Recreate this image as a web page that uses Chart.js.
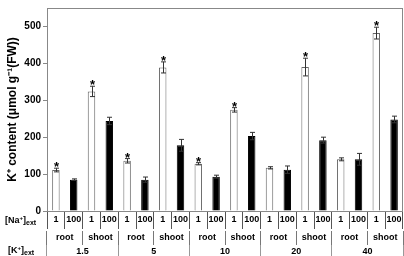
<!DOCTYPE html>
<html>
<head>
<meta charset="utf-8">
<script src="https://cdn.jsdelivr.net/npm/chart.js@4"></script>
<style>
  body { margin: 0; background: #fff; }
  #wrap { width: 404px; height: 256px; }
</style>
</head>
<body>
<div id="wrap"><canvas id="myChart"></canvas></div>
<script>
// [Na+]ext, tissue and [K+]ext levels
var naLabels = ['1', '100', '1', '100', '1', '100', '1', '100', '1', '100',
                '1', '100', '1', '100', '1', '100', '1', '100', '1', '100'];
var tissues = ['root', 'shoot', 'root', 'shoot', 'root', 'shoot', 'root', 'shoot', 'root', 'shoot'];
var kLevels = ['1.5', '5', '10', '20', '40'];

// K+ content, error and significance stars
var values = [111, 85, 324, 244, 136, 85, 389, 178, 128, 93, 274, 203, 117, 112, 390, 192, 140, 140, 482, 248];
var errors = [5, 2, 14, 10, 6, 7, 15, 16, 3, 4, 6, 10, 3, 10, 24, 8, 4, 16, 16, 9];
var stars = [1, 0, 1, 0, 1, 0, 1, 0, 1, 0, 1, 0, 0, 0, 1, 0, 0, 0, 1, 0];

var FONT = "'Liberation Sans', Arial, sans-serif";

var fills = [];
var borders = [];
for (var i = 0; i < naLabels.length; i++) {
    if (naLabels[i] == '1') {
        fills.push('#ffffff');
        borders.push('#666666');
    } else {
        fills.push('#000000');
        borders.push('#000000');
    }
}

var extras = {
    id: 'extras',
    afterDatasetsDraw: function(chart) {
        var ctx = chart.ctx;
        var y = chart.scales.y;
        var meta = chart.getDatasetMeta(0);
        ctx.save();
        ctx.strokeStyle = '#333';
        ctx.lineWidth = 1;
        for (var i = 0; i < values.length; i++) {
            var x = Math.round(meta.data[i].x) + 0.5;
            var top = y.getPixelForValue(values[i] + errors[i]);
            var bot = y.getPixelForValue(values[i] - errors[i]);
            ctx.beginPath();
            ctx.moveTo(x, bot); ctx.lineTo(x, top);
            ctx.moveTo(x - 2.5, top); ctx.lineTo(x + 2.5, top);
            ctx.moveTo(x - 2.5, bot); ctx.lineTo(x + 2.5, bot);
            ctx.stroke();
            if (stars[i]) {
                ctx.fillStyle = '#000';
                ctx.font = 'bold 13px ' + FONT;
                ctx.textAlign = 'center';
                ctx.textBaseline = 'alphabetic';
                ctx.fillText('*', x, top + 3);
            }
        }
        // frame
        var a = chart.chartArea;
        ctx.strokeStyle = '#888';
        ctx.strokeRect(Math.round(a.left) + 0.5, Math.round(a.top) + 0.5,
                       Math.round(a.right - a.left) - 1, Math.round(a.bottom - a.top));
        // row titles
        ctx.fillStyle = '#000';
        ctx.textAlign = 'left';
        ctx.textBaseline = 'middle';
        drawTag(ctx, 'Na', 5, 221);
        drawTag(ctx, 'K', 8, 251);
        ctx.restore();
    }
};

function drawTag(ctx, el, x, y) {
    ctx.font = 'bold 9px ' + FONT;
    ctx.fillText('[' + el, x, y);
    x += ctx.measureText('[' + el).width;
    ctx.font = 'bold 6px ' + FONT;
    ctx.fillText('+', x, y - 3);
    x += ctx.measureText('+').width;
    ctx.font = 'bold 9px ' + FONT;
    ctx.fillText(']', x, y);
    x += ctx.measureText(']').width;
    ctx.font = 'bold 7px ' + FONT;
    ctx.fillText('ext', x, y + 2);
}

new Chart('myChart', {
    type: 'bar',
    data: {
        labels: naLabels,
        datasets: [{
            data: values,
            backgroundColor: fills,
            borderColor: borders,
            borderWidth: 1,
            barPercentage: 0.42,
            categoryPercentage: 1
        }]
    },
    options: {
        responsive: true,
        maintainAspectRatio: false,
        animation: false,
        layout: { padding: { top: 1, right: 1, left: 0, bottom: 0 } },
        plugins: { legend: { display: false }, tooltip: { enabled: false } },
        scales: {
            y: {
                min: 0,
                max: 550,
                afterFit: function(s) { s.width = 47; },
                ticks: {
                    stepSize: 100,
                    includeBounds: false,
                    color: '#000',
                    padding: 2,
                    font: { family: FONT, size: 10, weight: 'bold' }
                },
                grid: { drawOnChartArea: false, tickLength: 4, color: '#888' },
                border: { display: false },
                title: {
                    display: true,
                    text: 'K⁺ content (μmol g⁻¹(FW))',
                    color: '#000',
                    padding: { top: 5, bottom: 0 },
                    font: { family: FONT, size: 12, weight: 'bold' }
                }
            },
            x: {
                afterFit: function(s) { s.height = 20; },
                ticks: {
                    autoSkip: false, maxRotation: 0, padding: -15, color: '#000',
                    font: { family: FONT, size: 9, weight: 'bold' }
                },
                grid: { offset: true, drawOnChartArea: false, tickLength: 18, color: '#555' },
                border: { display: false }
            },
            x2: {
                type: 'category',
                position: 'bottom',
                labels: tissues,
                afterFit: function(s) { s.height = 14; },
                ticks: {
                    autoSkip: false, maxRotation: 0, padding: -13, color: '#000',
                    font: { family: FONT, size: 9, weight: 'bold' }
                },
                grid: { offset: true, drawOnChartArea: false, tickLength: 14, color: '#777' },
                border: { display: false }
            },
            x3: {
                type: 'category',
                position: 'bottom',
                labels: kLevels,
                afterFit: function(s) { s.height = 11; },
                ticks: {
                    autoSkip: false, maxRotation: 0, padding: -10, color: '#000',
                    font: { family: FONT, size: 9, weight: 'bold' }
                },
                grid: { offset: true, drawOnChartArea: false, tickLength: 11, color: '#999' },
                border: { display: false }
            }
        }
    },
    plugins: [extras]
});
</script>
</body>
</html>
